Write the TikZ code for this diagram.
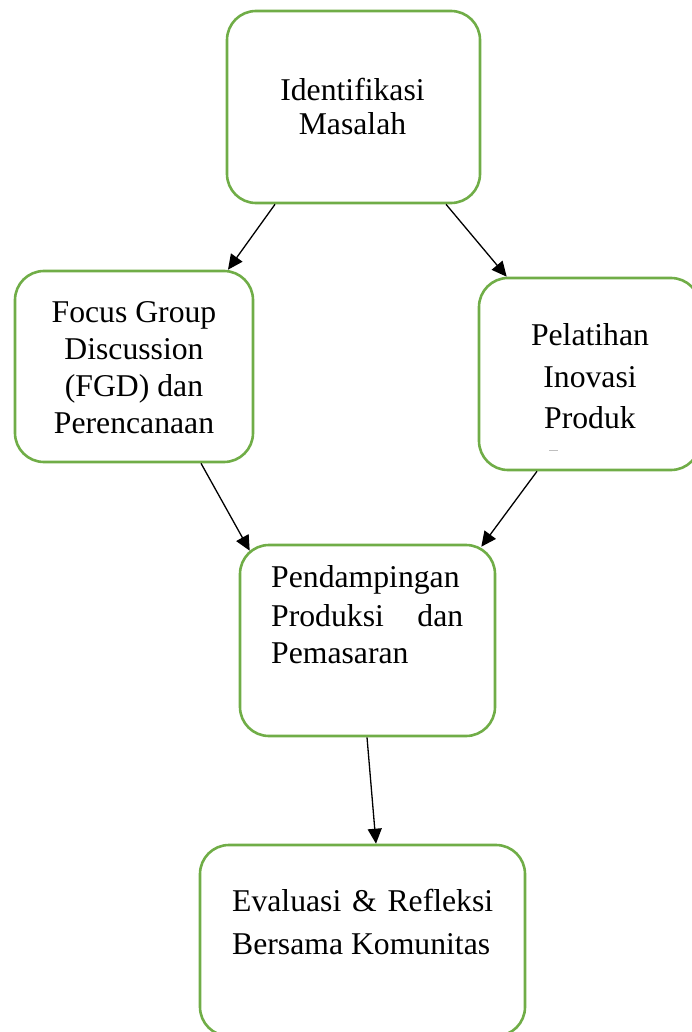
\documentclass[tikz,border=0pt]{standalone}
\usepackage{fontspec}
\setmainfont{Liberation Serif}
\usetikzlibrary{arrows.meta,calc}
\definecolor{boxgreen}{HTML}{70AD47}
\tikzset{
  box/.style={draw=boxgreen, line width=2.6pt, rounded corners=29pt, inner sep=0pt, fill=none},
  txt/.style={inner sep=0pt, anchor=base, font=\fontsize{31.7}{36}\selectfont},
  txtl/.style={txt, anchor=base west},
  conn/.style={-{Triangle[length=15pt,width=14pt]}, line width=1.3pt, black, shorten >=0pt}
}
\begin{document}
\begin{tikzpicture}[x=1pt,y=-1pt]
\useasboundingbox (0,0) rectangle (691,1032);
% boxes
\node[box, minimum width=253pt, minimum height=192pt] (A) at (353.5,107) {};
\node[box, minimum width=238pt, minimum height=191pt] (B) at (134,366.5) {};
\node[box, minimum width=221pt, minimum height=192pt] (C) at (589.5,374) {};
\node[box, minimum width=255pt, minimum height=191pt] (D) at (367.5,640.5) {};
\node[box, minimum width=325pt, minimum height=191pt] (E) at (362.5,940.5) {};
% texts
\node[txt] (a1) at (352.5,100.7) {Identifikasi};
\node[txt] (a2) at (352.5,135) {Masalah};
\node[txt] (b1) at (134,322.7) {Focus Group};
\node[txt] (b2) at (134,359.7) {Discussion};
\node[txt] (b3) at (134,396.7) {(FGD) dan};
\node[txt] (b4) at (134,433.5) {Perencanaan};
\node[txt] (c1) at (590,345) {Pelatihan};
\node[txt] (c2) at (590,387) {Inovasi};
\node[txt] (c3) at (590,428) {Produk};
\coordinate (cd1) at (549,450);
\coordinate (cd2) at (558,450);
\draw[gray!50, line width=0.8pt] (cd1) -- (cd2);
\node[txtl] (d1) at (271,587) {Pendampingan};
\node[txtl] (d2) at (271,626) {\hbox to 192pt{Produksi\hfill dan}};
\node[txtl] (d3) at (271,663) {Pemasaran};
\node[txtl] (e1) at (232,911) {\hbox to 261pt{Evaluasi\hfill \&\hfill Refleksi}};
\node[txtl] (e2) at (232,954) {Bersama Komunitas};
% connectors
\draw[conn] ($(A.south)+(-78.5,0)$) -- ($(B.north)+(94,0)$);
\draw[conn] ($(A.south)+(92.5,0)$) -- ($(C.north west)+(29,0)$);
\draw[conn] ($(B.south)+(67,0)$) -- ($(D.north west)+(11,7)$);
\draw[conn] ($(C.south)+(-52.5,0)$) -- ($(D.north east)+(-15,3)$);
\draw[conn] ($(D.south)+(-0.5,0)$) -- ($(E.north)+(13.5,0)$);
\end{tikzpicture}
\end{document}
